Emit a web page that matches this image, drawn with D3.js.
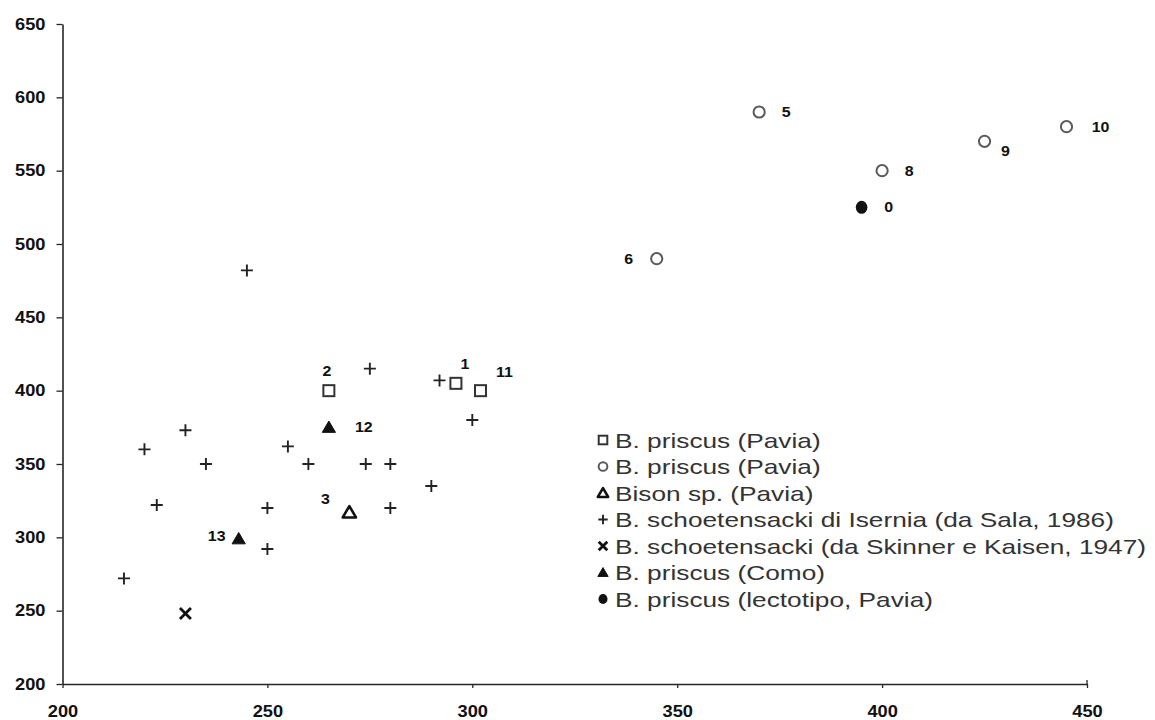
<!DOCTYPE html>
<html><head><meta charset="utf-8">
<script src="https://cdn.jsdelivr.net/npm/d3@7"></script>
<style>body{margin:0;background:#fff} svg{display:block}</style>
</head><body>
<svg id="c" width="1155" height="720"></svg>
<script>
// ---------- data ----------
const xTicks = [200, 250, 300, 350, 400, 450];
const yTicks = [200, 250, 300, 350, 400, 450, 500, 550, 600, 650];

const paviaSquares = [ {x:296, y:405, label:"1"}, {x:265, y:400, label:"2"}, {x:302, y:400, label:"11"} ];
const paviaCircles = [ {x:370, y:590, label:"5"}, {x:345, y:490, label:"6"}, {x:400, y:550, label:"8"},
                       {x:425, y:570, label:"9"}, {x:445, y:580, label:"10"} ];
const bisonSp      = [ {x:270, y:317, label:"3"} ];
const iserniaX = [275, 292, 300, 230, 220, 235, 255, 260, 274, 280, 290, 280, 223, 250, 250, 215, 245];
const iserniaY = [415, 407, 380, 373, 360, 350, 362, 350, 350, 350, 335, 320, 322, 320, 292, 272, 482];
const skinner      = [ {x:230, y:248} ];
const como         = [ {x:265, y:375, label:"12"}, {x:243, y:299, label:"13"} ];
const lectotipo    = [ {x:395, y:525, label:"0"} ];

const legendLabels = [
  "B. priscus (Pavia)",
  "B. priscus (Pavia)",
  "Bison sp. (Pavia)",
  "B. schoetensacki di Isernia (da Sala, 1986)",
  "B. schoetensacki (da Skinner e Kaisen, 1947)",
  "B. priscus (Como)",
  "B. priscus (lectotipo, Pavia)"
];
const legendSymbols = ["square", "circle", "triangleOpen", "plus", "cross", "triangle", "dot"];

// ---------- layout / style ----------
const W = 1155, H = 720;
const svg = d3.select("#c");
svg.append("rect").attr("width", W).attr("height", H).attr("fill", "#fff");

const x = d3.scaleLinear().domain([200, 450]).range([62.5, 1087]);
const y = d3.scaleLinear().domain([200, 650]).range([684, 24]);

const INK = "#262626";
const STRETCH = 1.14;

// label offsets (pixels) for point numbers
const labelOffset = {
  "1":[9,-19], "2":[-2,-20], "11":[24,-19], "12":[35,0], "3":[-24,-13], "13":[-22,-3],
  "5":[27,0], "6":[-28,0], "8":[27,0], "0":[27,0], "9":[21,10], "10":[34,0]
};

// ---------- axes ----------
const gy = svg.append("g").attr("transform", "translate(62.5,0)")
  .call(d3.axisLeft(y).tickValues(yTicks).tickSize(6).tickSizeOuter(0).tickPadding(11));
const gx = svg.append("g").attr("transform", "translate(0,684)")
  .call(d3.axisBottom(x).tickValues(xTicks).tickSize(4).tickSizeOuter(0).tickPadding(18));

[gx, gy].forEach(g => {
  g.select(".domain").attr("stroke", INK).attr("stroke-width", 1.6);
  g.selectAll(".tick line").attr("stroke", INK).attr("stroke-width", 1.3);
  g.selectAll(".tick text")
    .attr("fill", "#111")
    .style("font-family", "'Liberation Sans', Arial, sans-serif")
    .style("font-weight", "bold")
    .style("font-size", "16px");
});
gy.selectAll(".tick text").each(function(){
  const t = d3.select(this); const xx = +t.attr("x");
  t.attr("x", 0).attr("transform", `translate(${xx},0) scale(${STRETCH},1)`);
});
gx.selectAll(".tick text").each(function(){
  const t = d3.select(this); const yy = +t.attr("y");
  t.attr("y", 0).attr("transform", `translate(0,${yy}) scale(${STRETCH},1)`);
});
// small upturned tick at the right end of x axis
gx.append("line").attr("x1", x(450)).attr("x2", x(450)).attr("y1", 0).attr("y2", -4)
  .attr("stroke", INK).attr("stroke-width", 1.3);

// ---------- marker drawing ----------
function drawSymbol(g, type, cx, cy, s) {
  if (type === "square") {
    const h = 5.5 * s;
    g.append("rect").attr("x", cx - h).attr("y", cy - h).attr("width", 2*h).attr("height", 2*h)
      .attr("fill", "#fff").attr("stroke", "#333").attr("stroke-width", 2);
  } else if (type === "circle") {
    g.append("circle").attr("cx", cx).attr("cy", cy).attr("r", 5.6 * s)
      .attr("fill", "#fff").attr("stroke", "#5a5a5a").attr("stroke-width", 2);
  } else if (type === "dot") {
    g.append("ellipse").attr("cx", cx).attr("cy", cy).attr("rx", 5.8 * s).attr("ry", 6.5 * s)
      .attr("fill", "#111");
  } else if (type === "triangleOpen" || type === "triangle") {
    const h = 6.3 * s;
    const p = d3.path();
    p.moveTo(cx, cy - h); p.lineTo(cx + h * 1.05, cy + h * 0.8); p.lineTo(cx - h * 1.05, cy + h * 0.8); p.closePath();
    g.append("path").attr("d", p.toString())
      .attr("fill", type === "triangle" ? "#111" : "#fff")
      .attr("stroke", "#111").attr("stroke-width", type === "triangle" ? 1 : 2.6)
      .attr("stroke-linejoin", "round");
  } else if (type === "plus") {
    const h = 6 * s;
    g.append("path").attr("d", `M${cx-h},${cy}H${cx+h}M${cx},${cy-h}V${cy+h}`)
      .attr("stroke", "#222").attr("stroke-width", 1.9).attr("fill", "none");
  } else if (type === "cross") {
    const h = 5.5 * s;
    g.append("path").attr("d", `M${cx-h},${cy-h}L${cx+h},${cy+h}M${cx+h},${cy-h}L${cx-h},${cy+h}`)
      .attr("stroke", "#111").attr("stroke-width", 2.8).attr("fill", "none");
  }
}

const marks = svg.append("g");
const isernia = iserniaX.map((v, i) => ({x: v, y: iserniaY[i]}));

const series = [
  {data: paviaSquares, type: "square"},
  {data: paviaCircles, type: "circle"},
  {data: bisonSp, type: "triangleOpen"},
  {data: como, type: "triangle"},
  {data: lectotipo, type: "dot"},
  {data: skinner, type: "cross"},
  {data: isernia, type: "plus"}
];
series.forEach(s => s.data.forEach(d => drawSymbol(marks, s.type, x(d.x), y(d.y), 1)));

// point number labels
const labels = svg.append("g");
series.forEach(s => s.data.filter(d => d.label).forEach(d => {
  const off = labelOffset[d.label] || [20, 0];
  labels.append("text")
    .attr("transform", `translate(${x(d.x) + off[0]},${y(d.y) + off[1]}) scale(${STRETCH},1)`)
    .attr("text-anchor", "middle").attr("dy", "0.36em")
    .attr("fill", "#111")
    .style("font-family", "'Liberation Sans', Arial, sans-serif")
    .style("font-weight", "bold").style("font-size", "14px")
    .text(d.label);
}));

// ---------- legend ----------
const leg = svg.append("g");
const legX = 603, legY0 = 440, legStep = 26.5;
legendLabels.forEach((txt, i) => {
  const cy = legY0 + i * legStep;
  drawSymbol(leg, legendSymbols[i], legX, cy, 0.78);
  leg.append("text")
    .attr("transform", `translate(${legX + 12},${cy}) scale(1.25,1)`)
    .attr("dy", "0.36em")
    .attr("fill", "#333")
    .style("font-family", "'Liberation Sans', Arial, sans-serif")
    .style("font-size", "21px")
    .text(txt);
});
</script>
</body></html>
